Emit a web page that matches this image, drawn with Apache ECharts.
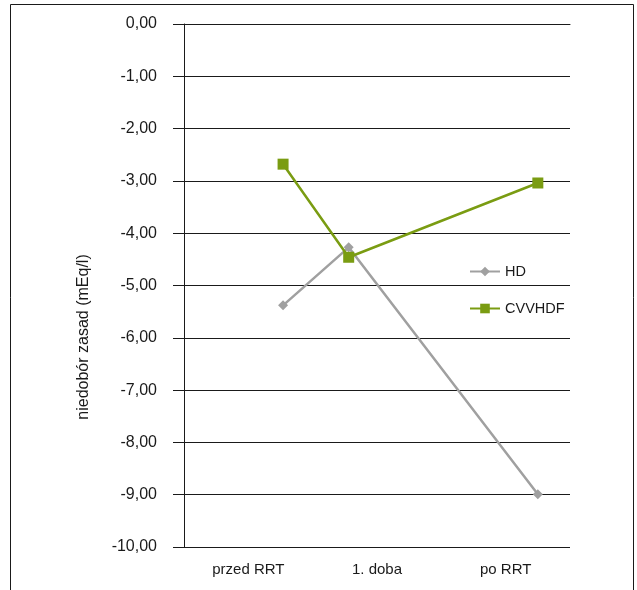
<!DOCTYPE html>
<html>
<head>
<meta charset="utf-8">
<script src="https://cdn.jsdelivr.net/npm/echarts@6/dist/echarts.min.js"></script>
<style>
  html, body { margin: 0; padding: 0; background: #fff; }
  #chart { width: 637px; height: 590px; }
</style>
</head>
<body>
<div id="chart"></div>
<script>
// categories on the x axis
const categories = ['przed RRT', '1. doba', 'po RRT']
// where each marker sits along the category band (0..3)
const pointPos = [0.77, 1.28, 2.75]
// base deficit values (mEq/l)
const hdValues = [-5.38, -4.27, -8.99]
const cvvhdfValues = [-2.68, -4.46, -3.04]

const font = 'Liberation Sans, Arial, sans-serif'

const chart = echarts.init(document.getElementById('chart'))

chart.setOption({
  animation: false,
  backgroundColor: '#fff',
  grid: { left: 184, right: 67, top: 24, bottom: 43 },
  legend: {
    orient: 'vertical',
    left: 464,
    top: 259,
    itemWidth: 30,
    itemHeight: 12,
    itemGap: 22,
    textStyle: { fontFamily: font, fontSize: 14.5, color: '#1a1a1a' },
    data: ['HD', 'CVVHDF']
  },
  xAxis: [
    {
      type: 'category',
      data: categories,
      boundaryGap: true,
      axisLine: { lineStyle: { color: '#1a1a1a', width: 1 } },
      axisTick: { length: 8, lineStyle: { color: '#1a1a1a' } },
      axisLabel: { fontFamily: font, fontSize: 15, color: '#1a1a1a', margin: 15 }
    },
    {
      type: 'value',
      min: 0,
      max: 3,
      show: false
    }
  ],
  yAxis: {
    type: 'value',
    min: -10,
    max: 0,
    interval: 1,
    name: 'niedobór zasad (mEq/l)',
    nameLocation: 'middle',
    nameGap: 92,
    nameTextStyle: { fontFamily: font, fontSize: 16, color: '#1a1a1a', padding: [0, 103, 0, 0] },
    axisLine: { show: true, lineStyle: { color: '#1a1a1a', width: 1 } },
    axisTick: { show: true, length: 11, lineStyle: { color: '#1a1a1a' } },
    splitLine: { lineStyle: { color: '#1a1a1a', width: 1 } },
    axisLabel: {
      fontFamily: font,
      fontSize: 16,
      color: '#1a1a1a',
      margin: 27,
      formatter: v => v.toFixed(2).replace('.', ',')
    }
  },
  series: [
    {
      name: 'HD',
      type: 'line',
      xAxisIndex: 1,
      data: hdValues.map((v, i) => [pointPos[i], v]),
      symbol: 'diamond',
      symbolSize: 10,
      lineStyle: { color: '#a0a0a0', width: 2.5 },
      itemStyle: { color: '#a0a0a0' }
    },
    {
      name: 'CVVHDF',
      type: 'line',
      xAxisIndex: 1,
      data: cvvhdfValues.map((v, i) => [pointPos[i], v]),
      symbol: 'rect',
      symbolSize: 11,
      lineStyle: { color: '#7a9c12', width: 2.5 },
      itemStyle: { color: '#7a9c12' }
    }
  ],
  graphic: [
    {
      type: 'rect',
      shape: { x: 10.5, y: 4.5, width: 623, height: 620 },
      style: { fill: 'none', stroke: '#1a1a1a', lineWidth: 1 },
      silent: true
    }
  ]
})
</script>
</body>
</html>
